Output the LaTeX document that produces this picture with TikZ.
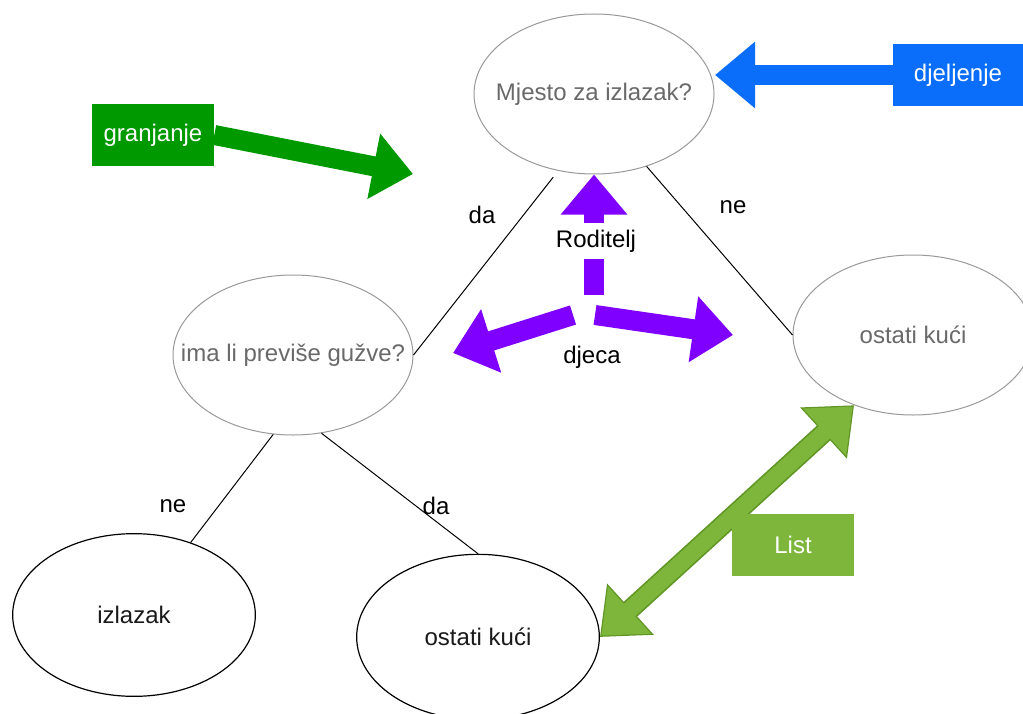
\documentclass[tikz,border=0pt]{standalone}
\usepackage{fontspec}
\setmainfont{Liberation Sans}
\usepackage{tikz}
\usetikzlibrary{arrows.meta}
\usetikzlibrary{shapes.geometric}

\definecolor{branchgreen}{RGB}{0,153,0}
\definecolor{splitblue}{RGB}{10,110,250}
\definecolor{nodeviolet}{RGB}{128,0,255}
\definecolor{leafgreen}{RGB}{125,182,58}
\definecolor{leafdark}{RGB}{96,150,38}
\definecolor{askgray}{RGB}{105,105,105}

\tikzset{
  question/.style={ellipse, draw=black!40, line width=0.75pt, minimum width=180pt, minimum height=120pt, inner xsep=-30pt, inner ysep=0pt, text=askgray},
  answer/.style={ellipse, draw=black, line width=0.9pt, minimum width=182pt, minimum height=122pt, inner xsep=-30pt, inner ysep=0pt, text=black!90},
  tagbox/.style={fill=#1, text=white, minimum height=46pt, inner sep=0pt},
  fat/.style={draw=#1, line width=15pt, -{Triangle[length=30pt,width=48pt]}},
}

\begin{document}
\begin{tikzpicture}[x=0.75pt, y=-0.75pt, font=\fontsize{18}{21}\selectfont]
\useasboundingbox (0,0) rectangle (1023,713);

\node[question] (place) at (594,94) {Mjesto za izlazak?};
\node[question] (crowd) at (293,355) {ima li previše gužve?};
\node[question] (home) at (913,335) {ostati kući};
\node[answer] (out) at (134,615) {izlazak};
\node[answer, minimum height=124pt] (stay) at (478,637) {ostati kući};

\draw[line width=0.75pt, shorten <=6pt] (place.245) -- (crowd.east);
\draw[line width=0.75pt] (place.306) -- (home.west);
\draw[line width=0.75pt] (crowd.256) -- (out.52);
\draw[line width=0.75pt] (crowd.290) -- (stay.north);

\node (yes1) at (482,215) {da};
\node (no1) at (733,207) {ne};
\node (no2) at (173,506) {ne};
\node (yes2) at (436,506) {da};

% parent and children
\coordinate (uptail) at (594,295);
\coordinate (lefttail) at (573,315);
\coordinate (lefttip) at (453,353);
\coordinate (righttail) at (595,315);
\coordinate (righttip) at (733,335);
\draw[fat=nodeviolet] (uptail) -- (place.south);
\draw[fat=nodeviolet] (lefttail) -- (lefttip);
\draw[fat=nodeviolet] (righttail) -- (righttip);
\node[fill=white, inner xsep=1pt, inner ysep=5pt] (parent) at (596,241) {Roditelj};
\node (children) at (592,357) {djeca};

% branching
\node[tagbox=branchgreen, minimum width=91.5pt] (branch) at (153,135) {granjanje};
\coordinate (branchtip) at (413,174);
\draw[fat=branchgreen] (branch.east) -- (branchtip);

% splitting
\node[tagbox=splitblue, minimum width=97.5pt] (split) at (958,75) {djeljenje};
\coordinate (splittip) at (715,75);
\draw[fat=splitblue] (split.west) -- (splittip);

% leaf
\draw[draw=leafdark, line width=15pt, {Triangle[length=31pt,width=50pt]}-{Triangle[length=31pt,width=50pt]}] (stay.east) -- (home.230);
\draw[draw=leafgreen, line width=12.5pt, shorten <=1.5pt, shorten >=1.5pt, {Triangle[length=28.5pt,width=46pt]}-{Triangle[length=28.5pt,width=46pt]}] (stay.east) -- (home.230);
\node[tagbox=leafgreen, minimum width=91pt] (leaf) at (793,545) {List};

\end{tikzpicture}
\end{document}
